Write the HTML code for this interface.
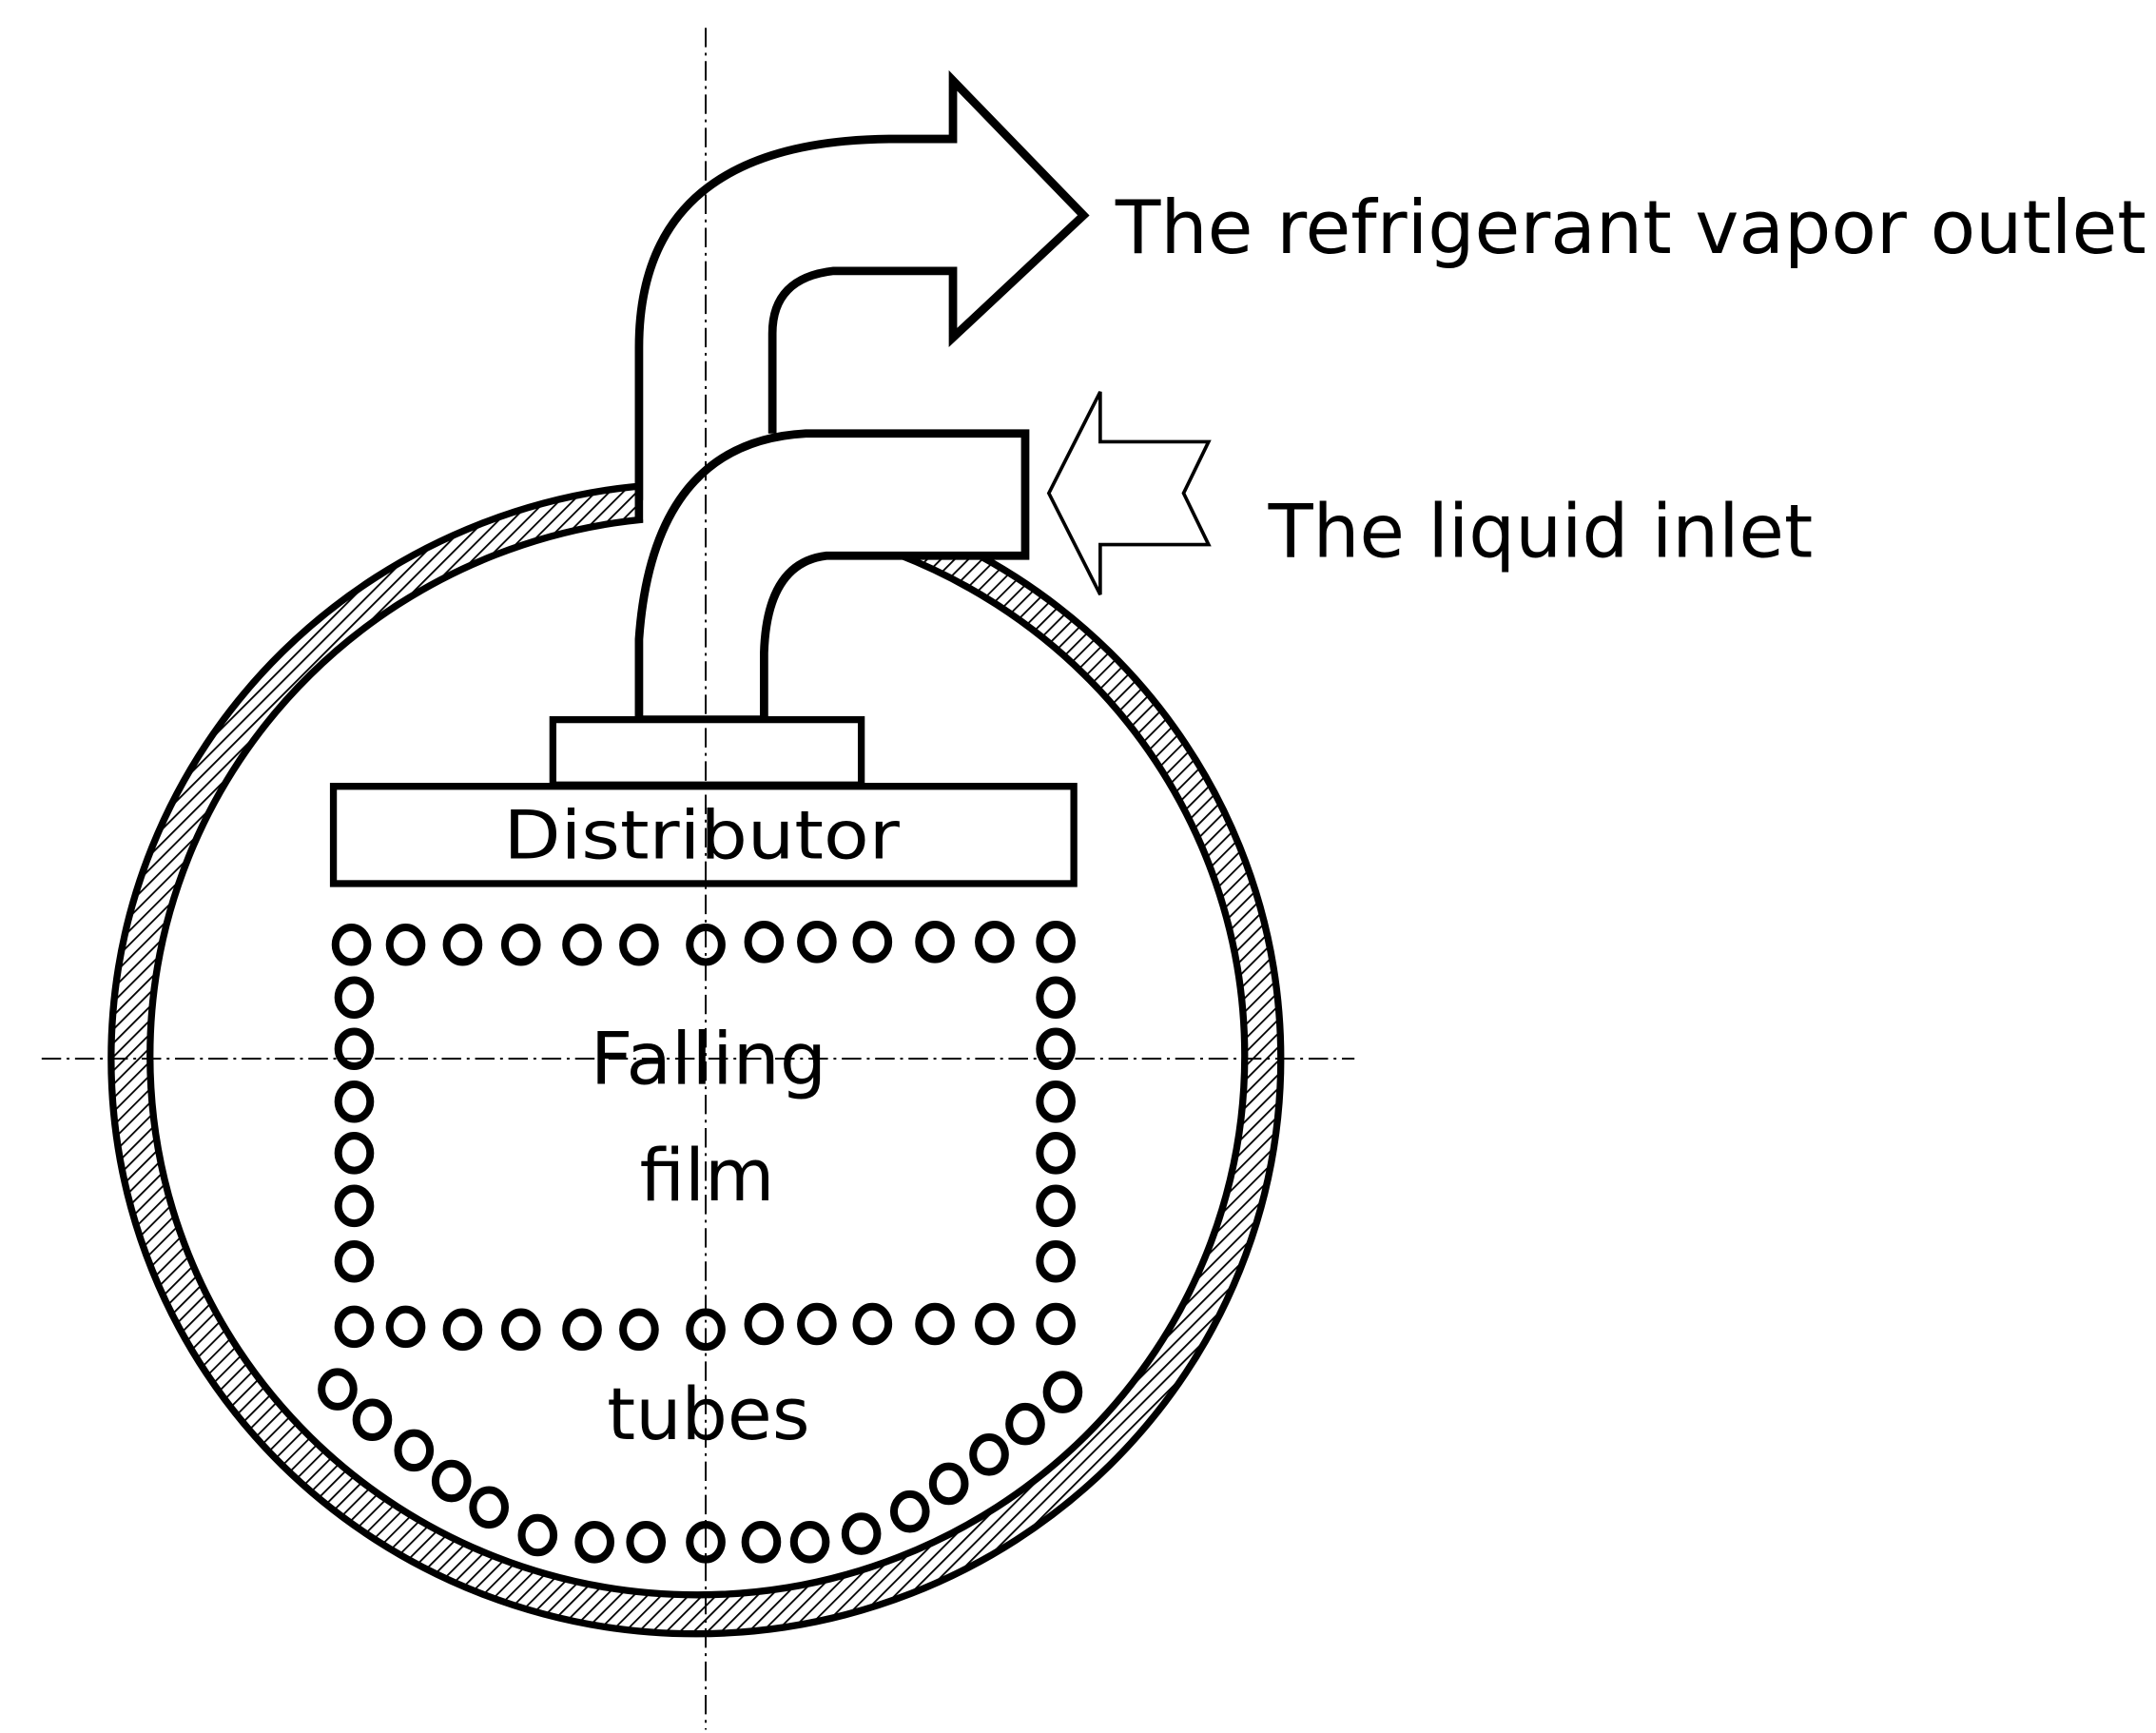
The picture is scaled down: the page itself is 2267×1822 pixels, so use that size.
<!DOCTYPE html>
<html><head><meta charset="utf-8"><style>html,body{margin:0;padding:0;background:#fff}svg{display:block}</style></head>
<body>
<svg width="2267" height="1822" viewBox="0 0 1552 1247.4" preserveAspectRatio="none" xmlns="http://www.w3.org/2000/svg">
<defs>
<pattern id="h" width="7" height="7" patternUnits="userSpaceOnUse" patternTransform="rotate(45)">
<rect width="7" height="7" fill="#fff"/><line x1="0" y1="0" x2="0" y2="7" stroke="#000" stroke-width="2.5"/>
</pattern>
<mask id="m"><rect width="1552" height="1248" fill="#fff"/><ellipse cx="502" cy="760" rx="394" ry="388" fill="#000"/></mask>
</defs>
<rect width="1552" height="1248" fill="#fff"/>
<ellipse cx="501" cy="762" rx="421" ry="414" fill="url(#h)" mask="url(#m)"/>
<ellipse cx="501" cy="762" rx="421" ry="414" fill="none" stroke="#000" stroke-width="5"/>
<ellipse cx="502" cy="760" rx="394" ry="388" fill="#fff" stroke="#000" stroke-width="5"/>
<path d="M460,376 L460,250 Q460,102 640,100 L686,100 L686,58 L780,155 L686,243 L686,195 L600,195 Q556,200 556,240 L556,312" fill="#fff" stroke="#000" stroke-width="6"/>
<rect x="463" y="360" width="90" height="20" fill="#fff"/>
<path d="M460,518 L460,460 Q470,318 580,312 L738,312 L738,400 L595,400 Q552,405 550,470 L550,518 Z" fill="#fff" stroke="#000" stroke-width="6"/>
<rect x="398" y="518" width="222" height="47" fill="#fff" stroke="#000" stroke-width="5"/>
<rect x="240" y="566" width="533" height="70" fill="#fff" stroke="#000" stroke-width="5"/>
<g stroke="#000" stroke-width="1.3" stroke-dasharray="14,4,2,4" fill="none">
<line x1="508" y1="20" x2="508" y2="1245"/>
<line x1="30" y1="762" x2="975" y2="762"/>
</g>
<path d="M755,355 L792,282 L792,318 L870,318 L852,355 L870,392 L792,392 L792,428 Z" fill="#fff" stroke="#000" stroke-width="2.5"/>
<g fill="none" stroke="#000" stroke-width="5.5">
<g transform="translate(0,0)">
<ellipse cx="253" cy="680" rx="11.5" ry="12.5"/><ellipse cx="292" cy="680" rx="11.5" ry="12.5"/><ellipse cx="333" cy="680" rx="11.5" ry="12.5"/><ellipse cx="375" cy="680" rx="11.5" ry="12.5"/><ellipse cx="419" cy="680" rx="11.5" ry="12.5"/><ellipse cx="460" cy="680" rx="11.5" ry="12.5"/><ellipse cx="508" cy="680" rx="11.5" ry="12.5"/><ellipse cx="550" cy="678" rx="11.5" ry="12.5"/><ellipse cx="588" cy="678" rx="11.5" ry="12.5"/><ellipse cx="628" cy="678" rx="11.5" ry="12.5"/><ellipse cx="673" cy="678" rx="11.5" ry="12.5"/><ellipse cx="716" cy="678" rx="11.5" ry="12.5"/><ellipse cx="760" cy="678" rx="11.5" ry="12.5"/>
<ellipse cx="255" cy="718" rx="11.5" ry="12.5"/><ellipse cx="255" cy="755" rx="11.5" ry="12.5"/><ellipse cx="255" cy="793" rx="11.5" ry="12.5"/><ellipse cx="255" cy="830" rx="11.5" ry="12.5"/><ellipse cx="255" cy="868" rx="11.5" ry="12.5"/><ellipse cx="255" cy="908" rx="11.5" ry="12.5"/>
<ellipse cx="760" cy="718" rx="11.5" ry="12.5"/><ellipse cx="760" cy="755" rx="11.5" ry="12.5"/><ellipse cx="760" cy="793" rx="11.5" ry="12.5"/><ellipse cx="760" cy="830" rx="11.5" ry="12.5"/><ellipse cx="760" cy="868" rx="11.5" ry="12.5"/><ellipse cx="760" cy="908" rx="11.5" ry="12.5"/>
<ellipse cx="255" cy="955" rx="11.5" ry="12.5"/><ellipse cx="292" cy="955" rx="11.5" ry="12.5"/><ellipse cx="333" cy="957" rx="11.5" ry="12.5"/><ellipse cx="375" cy="957" rx="11.5" ry="12.5"/><ellipse cx="419" cy="957" rx="11.5" ry="12.5"/><ellipse cx="460" cy="957" rx="11.5" ry="12.5"/><ellipse cx="508" cy="957" rx="11.5" ry="12.5"/><ellipse cx="550" cy="953" rx="11.5" ry="12.5"/><ellipse cx="588" cy="953" rx="11.5" ry="12.5"/><ellipse cx="628" cy="953" rx="11.5" ry="12.5"/><ellipse cx="673" cy="953" rx="11.5" ry="12.5"/><ellipse cx="716" cy="953" rx="11.5" ry="12.5"/><ellipse cx="760" cy="953" rx="11.5" ry="12.5"/>
<ellipse cx="243" cy="1000" rx="11.5" ry="12.5"/><ellipse cx="268" cy="1022" rx="11.5" ry="12.5"/><ellipse cx="298" cy="1044" rx="11.5" ry="12.5"/><ellipse cx="325" cy="1066" rx="11.5" ry="12.5"/><ellipse cx="352" cy="1085" rx="11.5" ry="12.5"/><ellipse cx="387" cy="1105" rx="11.5" ry="12.5"/><ellipse cx="428" cy="1110" rx="11.5" ry="12.5"/><ellipse cx="465" cy="1110" rx="11.5" ry="12.5"/><ellipse cx="508" cy="1110" rx="11.5" ry="12.5"/><ellipse cx="548" cy="1110" rx="11.5" ry="12.5"/><ellipse cx="583" cy="1110" rx="11.5" ry="12.5"/><ellipse cx="620" cy="1104" rx="11.5" ry="12.5"/><ellipse cx="655" cy="1088" rx="11.5" ry="12.5"/><ellipse cx="683" cy="1068" rx="11.5" ry="12.5"/><ellipse cx="712" cy="1047" rx="11.5" ry="12.5"/><ellipse cx="738" cy="1025" rx="11.5" ry="12.5"/><ellipse cx="765" cy="1002" rx="11.5" ry="12.5"/>
</g>
</g>
<g font-family="DejaVu Sans, Liberation Sans, sans-serif" fill="#000">
<text x="803" y="182" font-size="53" textLength="742" lengthAdjust="spacingAndGlyphs">The refrigerant vapor outlet</text>
<text x="913" y="401" font-size="53" textLength="392" lengthAdjust="spacingAndGlyphs">The liquid inlet</text>
<text x="505" y="618" font-size="48" text-anchor="middle" textLength="285" lengthAdjust="spacingAndGlyphs">Distributor</text>
<text x="510" y="780" font-size="52" text-anchor="middle" textLength="170" lengthAdjust="spacingAndGlyphs">Falling</text>
<text x="509" y="864" font-size="52" text-anchor="middle" textLength="97" lengthAdjust="spacingAndGlyphs">film</text>
<text x="510" y="1036" font-size="52" text-anchor="middle" textLength="146" lengthAdjust="spacingAndGlyphs">tubes</text>
</g>
</svg>
</body></html>
